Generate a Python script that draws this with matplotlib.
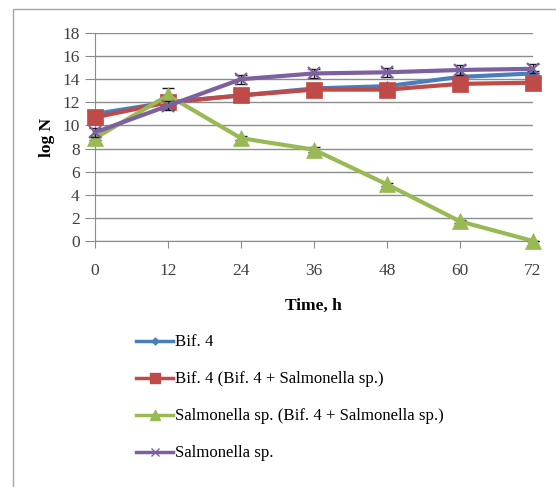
import matplotlib.pyplot as plt
from matplotlib.patches import Rectangle
from matplotlib.lines import Line2D

# sampling times and log counts for each culture
time_h = [0, 12, 24, 36, 48, 60, 72]
bif4 = [11.0, 12.0, 12.6, 13.2, 13.4, 14.2, 14.5]
bif4_mixed = [10.7, 12.0, 12.6, 13.1, 13.1, 13.6, 13.7]
salm_mixed = [8.9, 12.6, 8.9, 7.9, 4.9, 1.7, 0.0]
salm = [9.4, 11.7, 14.0, 14.5, 14.6, 14.8, 14.9]

# standard deviations shown as error bars
bif4_err = [0.2, 0.1, 0.1, 0.1, 0.2, 0.2, 0.2]
bif4_mixed_err = [0.2, 0.1, 0.1, 0.1, 0.1, 0.1, 0.1]
salm_mixed_err = [0.2, 0.6, 0.2, 0.2, 0.1, 0.1, 0.0]
salm_err = [0.4, 0.4, 0.4, 0.4, 0.4, 0.4, 0.4]

labels = ['Bif. 4',
          'Bif. 4 (Bif. 4 + Salmonella sp.)',
          'Salmonella sp. (Bif. 4 + Salmonella sp.)',
          'Salmonella sp.']

plt.rcParams['font.family'] = ['Liberation Serif', 'DejaVu Serif']

fig = plt.figure(figsize=(5.56, 4.87), dpi=100)
# outer chart frame
fig.patches.append(Rectangle((13/556, -0.1), 1.0, 1 - 9/487 + 0.1,
                             transform=fig.transFigure, fill=False,
                             edgecolor='#a6a6a6', linewidth=1.0))

ax = fig.add_axes([95/556, 1 - 241/487, 438/556, 208/487])

series = [
    (bif4, bif4_err, '#4a7ebb', 'D', 5),
    (bif4_mixed, bif4_mixed_err, '#be4b48', 's', 11),
    (salm_mixed, salm_mixed_err, '#98b954', '^', 11),
    (salm, salm_err, '#7d60a0', 'x', 8),
]
handles = []
z = 2
for (vals, err, col, mk, ms), lab in zip(series, labels):
    ax.errorbar(time_h, vals, yerr=err, fmt='none', ecolor='#1a1a1a',
                elinewidth=1.0, capsize=4, capthick=1.0, zorder=z, clip_on=False)
    ax.plot(time_h, vals, color=col, linewidth=3.0, marker=mk,
            markersize=ms, markeredgecolor=col,
            markeredgewidth=1.5 if mk == 'x' else 0.5,
            zorder=z + 0.5, clip_on=False)
    z += 1
    handles.append(Line2D([], [], color=col, linewidth=2.5, marker=mk,
                          markersize=ms * 0.7, markeredgecolor=col))

ax.set_xlim(0, 72)
ax.set_ylim(0, 18)
ax.set_xticks(time_h)
ax.set_yticks(range(0, 19, 2))
ax.yaxis.grid(True, color='#8c8c8c', linewidth=1.0)
ax.set_axisbelow(True)
for s in ['top', 'right']:
    ax.spines[s].set_visible(False)
for s in ['left', 'bottom']:
    ax.spines[s].set_color('#8c8c8c')
ax.tick_params(axis='y', length=7, color='#8c8c8c', labelsize=12.5,
               labelcolor='#404040', pad=4)
ax.tick_params(axis='x', length=5, color='#8c8c8c', labelsize=12.5,
               labelcolor='#404040', pad=11)

fig.text(47/556, 1 - 137/487, 'log N', rotation=90, fontsize=12.5,
         fontweight='bold', ha='center', va='center')
fig.text(313/556, 1 - 306/487, 'Time, h', fontsize=12.5,
         fontweight='bold', ha='center', va='center')

fig.legend(handles, labels, loc='upper left',
           bbox_to_anchor=(128/556, 1 - 326/487), frameon=False,
           fontsize=12.1, handlelength=2.2, handletextpad=0.1,
           labelspacing=1.25, borderpad=0)

fig.savefig('out.png', dpi=100)
